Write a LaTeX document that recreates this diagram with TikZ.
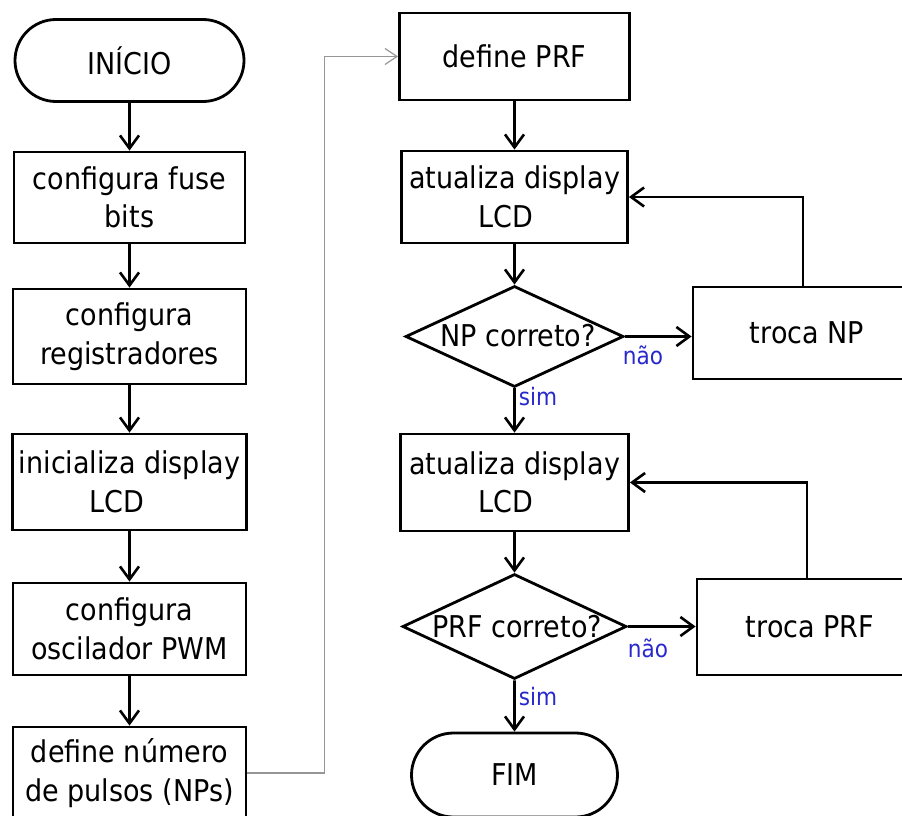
\documentclass[tikz,border=0pt]{standalone}
\usepackage{fontspec}
\setmainfont{DejaVu Sans}[FakeStretch=0.9]
\usetikzlibrary{shapes.geometric,shapes.misc,arrows.meta}
\definecolor{lblblue}{RGB}{40,40,205}
\definecolor{linkgray}{RGB}{150,150,150}

\begin{document}
\begin{tikzpicture}[x=1pt,y=-1pt,
  every node/.style={font=\fontsize{30}{38.5}\selectfont},
  proc/.style={draw, line width=2.8pt, rectangle, inner sep=0pt, align=center},
  term/.style={draw, line width=2.8pt, rounded rectangle, inner sep=0pt, align=center},
  dec/.style={draw, line width=2.8pt, diamond, inner sep=0pt},
  flow/.style={line width=2.6pt, -{Straight Barb[length=13pt,width=19pt]}},
  link/.style={draw=linkgray, line width=1.2pt, -{Straight Barb[length=12pt,width=16pt]}},
  lbl/.style={text=lblblue, font=\fontsize{24}{28}\selectfont, inner sep=0pt}]

\useasboundingbox (0,0) rectangle (902,816);
\fill[white] (0,0) rectangle (902,816);
\clip (0,0) rectangle (902,816);

% left column
\node[term, minimum width=229pt, minimum height=82pt] (ini) at (129.5,60.5) {INÍCIO};
\node[proc, minimum width=231pt, minimum height=91pt] (b1) at (129.5,197.5) {configura fuse\\bits};
\node[proc, minimum width=233pt, minimum height=95pt] (b2) at (129.5,336.5) {configura\\registradores};
\node[proc, minimum width=234pt, minimum height=96pt] (b3) at (129.5,482) {inicializa display\\LCD\hspace*{26pt}};
\node[proc, minimum width=233pt, minimum height=92pt] (b4) at (129.5,629) {configura\\oscilador PWM};
\node[proc, minimum width=233pt, minimum height=92pt] (b5) at (129.5,773) {define número\\de pulsos (NPs)};

% right column
\node[proc, minimum width=230pt, minimum height=87pt] (prf) at (514.5,56.5) {define PRF};
\node[proc, minimum width=226pt, minimum height=92pt] (at1) at (514.5,197) {atualiza display\\LCD\hspace*{18pt}};
\node[dec, minimum width=218pt, minimum height=101pt] (d1) at (514.5,336.5) {};
\node at (518,336) {NP correto?};
\node[proc, minimum width=220pt, minimum height=92pt] (tn) at (803,333) {\hspace*{8pt}troca NP};
\node[proc, minimum width=228pt, minimum height=97pt] (at2) at (514.5,482.5) {atualiza display\\LCD\hspace*{18pt}};
\node[dec, minimum width=224pt, minimum height=105pt] (d2) at (514.5,626.5) {};
\node at (517,627) {PRF correto?};
\node[proc, minimum width=220pt, minimum height=96pt] (tp) at (807,627) {\hspace*{6pt}troca PRF};
\node[term, minimum width=206pt, minimum height=84pt] (fim) at (514.5,775) {FIM};

% branch labels
\node[lbl] at (643,355) {não};
\node[lbl] at (538,397) {sim};
\node[lbl] at (648,648) {não};
\node[lbl] at (538,697) {sim};

% main flow
\draw[flow] (ini) -- (b1);
\draw[flow] (b1) -- (b2);
\draw[flow] (b2) -- (b3);
\draw[flow] (b3) -- (b4);
\draw[flow] (b4) -- (b5);
\draw[link] (b5.east) -- ++(77,0) |- (prf.west);
\draw[flow] (prf) -- (at1);
\draw[flow] (at1) -- (d1);
\draw[flow] (d1.east) -- (d1.east -| tn.west);
\draw[flow] (tn.north) |- (at1.east);
\draw[flow] (d1) -- (at2);
\draw[flow] (at2) -- (d2);
\draw[flow] (d2.east) -- (d2.east -| tp.west);
\draw[flow] (tp.north) |- (at2.east);
\draw[flow] (d2) -- (fim);
\end{tikzpicture}
\end{document}
